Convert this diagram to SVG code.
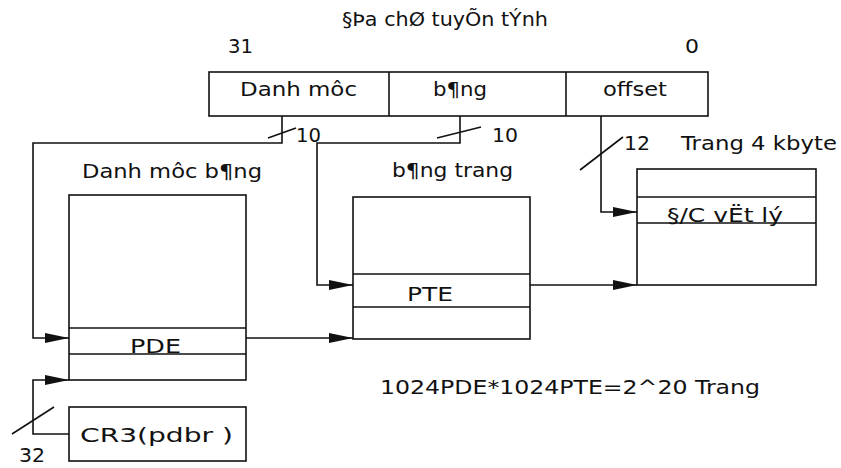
<svg xmlns="http://www.w3.org/2000/svg" width="841" height="468" viewBox="0 0 841 468">
<style>
text{font-family:"DejaVu Sans","Liberation Sans",sans-serif;font-size:20px;fill:#111}
.b{fill:#fff;stroke:#111;stroke-width:1.6}
.l{fill:none;stroke:#111;stroke-width:1.6}
</style>
<defs>
<marker id="ah" markerUnits="userSpaceOnUse" markerWidth="24" markerHeight="10" refX="24" refY="5" orient="auto">
<path d="M0,0 L24,5 L0,10 z" fill="#111"/>
</marker>
</defs>
<rect width="841" height="468" fill="#fff"/>
<g id="title">
<text x="342" y="26" textLength="206" lengthAdjust="spacingAndGlyphs">§Þa chØ tuyÕn tÝnh</text>
<text x="228" y="53" textLength="25" lengthAdjust="spacingAndGlyphs">31</text>
<text x="685" y="53" textLength="14" lengthAdjust="spacingAndGlyphs">0</text>
</g>
<g id="register">
<rect class="b" x="209" y="72" width="499" height="44"/>
<line class="l" x1="389" y1="72" x2="389" y2="116"/>
<line class="l" x1="566" y1="72" x2="566" y2="116"/>
<text x="240" y="96" textLength="117" lengthAdjust="spacingAndGlyphs">Danh môc</text>
<text x="433" y="96" textLength="54" lengthAdjust="spacingAndGlyphs">b¶ng</text>
<text x="603" y="96" textLength="64" lengthAdjust="spacingAndGlyphs">offset</text>
</g>
<g id="directory">
<text x="82" y="178" textLength="180" lengthAdjust="spacingAndGlyphs">Danh môc b¶ng</text>
<rect class="b" x="69" y="195" width="177" height="185"/>
<line class="l" x1="69" y1="328" x2="246" y2="328"/>
<line class="l" x1="69" y1="354" x2="246" y2="354"/>
<text x="130" y="353" textLength="51" lengthAdjust="spacingAndGlyphs">PDE</text>
</g>
<g id="pagetable">
<text x="392" y="177" textLength="121" lengthAdjust="spacingAndGlyphs">b¶ng trang</text>
<rect class="b" x="353" y="197" width="177" height="142"/>
<line class="l" x1="353" y1="274" x2="530" y2="274"/>
<line class="l" x1="353" y1="307" x2="530" y2="307"/>
<text x="407" y="301" textLength="46" lengthAdjust="spacingAndGlyphs">PTE</text>
</g>
<g id="page">
<text x="681" y="150" textLength="156" lengthAdjust="spacingAndGlyphs">Trang 4 kbyte</text>
<rect class="b" x="637" y="169" width="179" height="116"/>
<line class="l" x1="637" y1="197" x2="816" y2="197"/>
<line class="l" x1="637" y1="223" x2="816" y2="223"/>
<text x="667" y="222" textLength="116" lengthAdjust="spacingAndGlyphs">§/C vËt lý</text>
</g>
<g id="cr3">
<rect class="b" x="69" y="407" width="177" height="54"/>
<text x="80" y="442" textLength="153" lengthAdjust="spacingAndGlyphs">CR3(pdbr )</text>
</g>
<g id="note">
<text x="380" y="394" textLength="380" lengthAdjust="spacingAndGlyphs">1024PDE*1024PTE=2^20 Trang</text>
</g>
<g id="connectors">
<path class="l" d="M282,116 V143 H33 V338 H69" marker-end="url(#ah)"/>
<path class="l" d="M460,116 V143 H317 V285 H353" marker-end="url(#ah)"/>
<path class="l" d="M601,116 V212 H637" marker-end="url(#ah)"/>
<path class="l" d="M246,338 H353" marker-end="url(#ah)"/>
<path class="l" d="M530,285 H637" marker-end="url(#ah)"/>
<path class="l" d="M69,434 H33 V380 H69" marker-end="url(#ah)"/>
<line class="l" x1="268" y1="138" x2="296" y2="128"/>
<line class="l" x1="437" y1="138" x2="481" y2="127"/>
<line class="l" x1="580" y1="170" x2="623" y2="137"/>
<line class="l" x1="12" y1="434" x2="54" y2="407"/>
<text x="296" y="142" textLength="25" lengthAdjust="spacingAndGlyphs">10</text>
<text x="492" y="142" textLength="26" lengthAdjust="spacingAndGlyphs">10</text>
<text x="624" y="150" textLength="26" lengthAdjust="spacingAndGlyphs">12</text>
<text x="19" y="462" style="font-size:19px" textLength="26" lengthAdjust="spacingAndGlyphs">32</text>
</g>
</svg>
